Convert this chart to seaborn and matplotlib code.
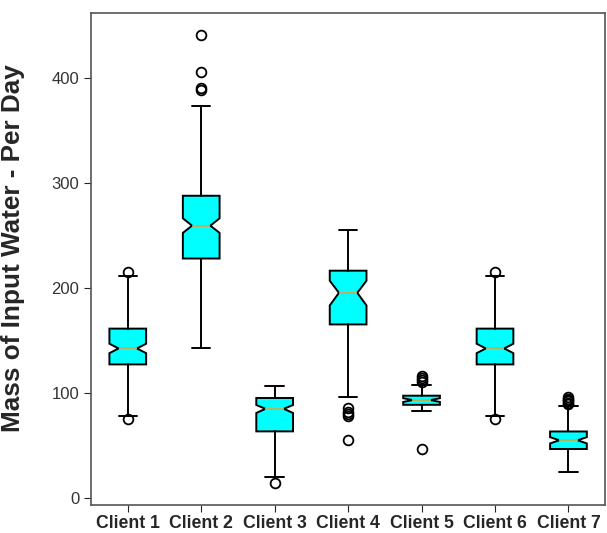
import matplotlib
matplotlib.use('Agg')
import matplotlib.pyplot as plt
import seaborn as sns

# box statistics, one entry per client
clients = ["Client 1", "Client 2", "Client 3", "Client 4", "Client 5", "Client 6", "Client 7"]
medians = [142.5, 259.5, 85.0, 195.5, 93.3, 142.5, 55.0]
q1 = [127.3, 228.2, 63.5, 165.4, 88.8, 127.3, 46.7]
q3 = [161.4, 288.0, 95.3, 216.6, 97.5, 161.4, 63.4]
notch_lo = [138.0, 252.6, 81.0, 183.5, 91.5, 138.0, 52.0]
notch_hi = [147.0, 266.5, 88.6, 207.0, 95.1, 147.0, 58.0]
whisker_lo = [78.6, 142.5, 19.8, 96.0, 83.3, 78.6, 24.8]
whisker_hi = [211.8, 373.3, 106.6, 255.4, 107.6, 211.8, 87.7]
fliers = [
    [75.5, 215.5],
    [389.0, 390.5, 406.0, 441.0],
    [14.4],
    [55.4, 78.6, 80.5, 82.3, 85.5],
    [46.9, 110.8, 112.5, 114.5, 116.5],
    [75.5, 215.5],
    [89.5, 90.8, 92.0, 93.3, 94.5, 95.8],
]

sns.set_style("ticks")
plt.rcParams['font.family'] = ['Liberation Sans', 'DejaVu Sans']

stats = []
for i, name in enumerate(clients):
    stats.append({
        "label": name,
        "med": medians[i],
        "q1": q1[i],
        "q3": q3[i],
        "cilo": notch_lo[i],
        "cihi": notch_hi[i],
        "whislo": whisker_lo[i],
        "whishi": whisker_hi[i],
        "fliers": fliers[i],
    })

fig, ax = plt.subplots(figsize=(6.07, 5.33), dpi=100)
ax.bxp(
    stats,
    shownotches=True,
    patch_artist=True,
    widths=0.5,
    boxprops=dict(facecolor="#00ffff", edgecolor="black", linewidth=1.4),
    medianprops=dict(color="#d9a441", linewidth=1.2),
    whiskerprops=dict(color="black", linewidth=1.4),
    capprops=dict(color="black", linewidth=1.4),
    flierprops=dict(marker="o", markerfacecolor="none", markeredgecolor="black",
                    markersize=7, markeredgewidth=1.3),
)

ax.set_ylabel("Mass of Input Water - Per Day", fontsize=18.8, fontweight="bold")
ax.yaxis.set_label_coords(-0.128, 0.522)
ax.set_yticks([0, 100, 200, 300, 400])
ax.tick_params(axis="y", labelsize=12, labelcolor="#333333", length=5)
ax.tick_params(axis="x", length=5, pad=2)
for lab in ax.get_xticklabels():
    lab.set_fontweight("bold")
    lab.set_fontsize(12.7)
for sp in ax.spines.values():
    sp.set_color("#555555")
    sp.set_linewidth(1.2)

fig.subplots_adjust(left=0.150, right=0.997, top=0.976, bottom=0.052)
fig.savefig("out.png", dpi=100)
